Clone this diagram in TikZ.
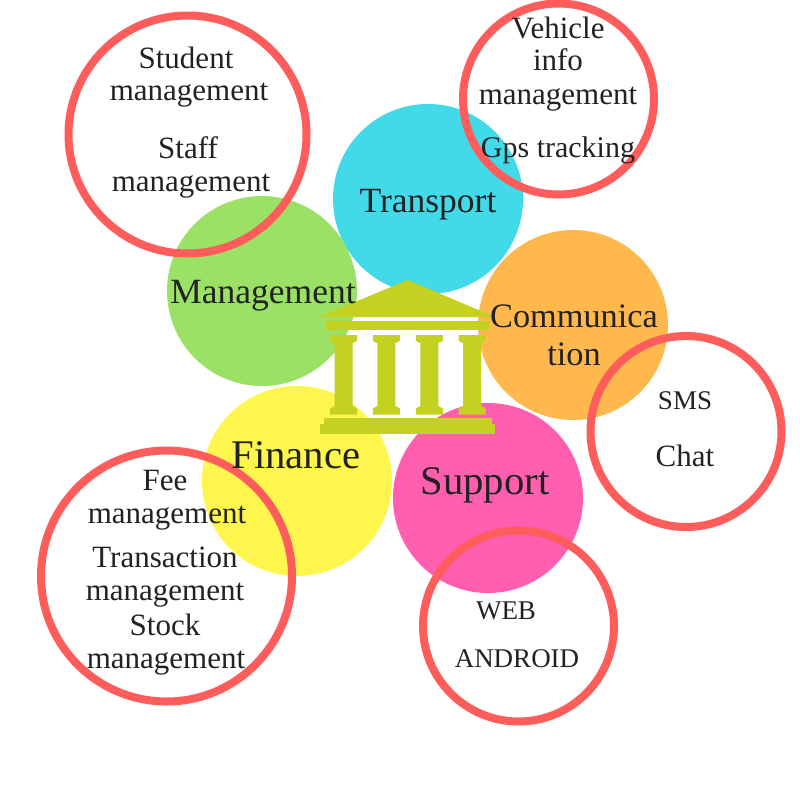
\documentclass[tikz,border=0pt]{standalone}
\usepackage{fontspec}
\setmainfont{Liberation Serif}
\definecolor{ttext}{HTML}{222222}
\definecolor{ring}{HTML}{FF5C5C}
\definecolor{cTrans}{HTML}{42D9E8}
\definecolor{cMan}{HTML}{9BE166}
\definecolor{cComm}{HTML}{FFB84D}
\definecolor{cFin}{HTML}{FFF64D}
\definecolor{cSup}{HTML}{FF5FAE}
\definecolor{temple}{HTML}{C5D120}
\tikzset{
  blob/.style={circle,inner sep=0pt,minimum size=190pt,draw=none},
  ringc/.style={circle,inner sep=0pt,draw=ring,line width=8pt,fill=none},
  big/.style={anchor=base,inner sep=0pt,text=ttext,font=\fontsize{35.5}{36}\selectfont},
  comm/.style={anchor=base,inner sep=0pt,text=ttext,font=\fontsize{34.3}{36}\selectfont},
  huge/.style={anchor=base,inner sep=0pt,text=ttext,font=\fontsize{40.7}{42}\selectfont},
  small/.style={anchor=base,inner sep=0pt,text=ttext,font=\fontsize{31}{32}\selectfont},
  gps/.style={anchor=base,inner sep=0pt,text=ttext,font=\fontsize{30}{32}\selectfont},
  caps/.style={anchor=base,inner sep=0pt,text=ttext,font=\fontsize{27}{28}\selectfont},
  templepart/.style={fill=temple,draw=none}
}
\begin{document}
\begin{tikzpicture}[x=1pt,y=-1pt]
\useasboundingbox (0,0) rectangle (800,800);
\fill[white] (0,0) rectangle (800,800);
% coloured discs
\node[blob,fill=cTrans] (transport) at (428,199) {};
\node[blob,fill=cMan] (management) at (262,291) {};
\node[blob,fill=cComm] (communication) at (573,325) {};
\node[blob,fill=cFin] (finance) at (297,481) {};
\node[blob,fill=cSup] (support) at (488,498) {};
% temple
\fill[templepart] (407.7,280) -- (495,317) -- (319,317) -- cycle;
\fill[templepart] (326,321) rectangle (490,329.5);
\foreach \cx in {343.7,386.3,429.3,472}{
  \fill[templepart] (\cx-13.5,335) -- (\cx+13.5,335) -- (\cx+13.5,341) -- (\cx+9,343) -- (\cx+9,406) -- (\cx+13.5,408.5) -- (\cx+13.5,414.5) -- (\cx-13.5,414.5) -- (\cx-13.5,408.5) -- (\cx-9,406) -- (\cx-9,343) -- (\cx-13.5,341) -- cycle;
}
\fill[templepart] (324,417.5) rectangle (491.5,424);
\fill[templepart] (320,424) rectangle (495,433.5);
% rings
\node[ringc,minimum size=238pt] (r1) at (187.5,134.5) {};
\node[ringc,minimum size=191pt] (r2) at (558.5,99) {};
\node[ringc,minimum size=191pt] (r3) at (686,431.5) {};
\node[ringc,minimum size=251pt] (r4) at (166.5,576) {};
\node[ringc,minimum size=191pt] (r5) at (518.5,626) {};
% labels
\node[big] (l1) at (428,212) {Transport};
\node[big] (l2) at (263,303) {Management};
\node[comm] (l3) at (574,327) {Communica};
\node[comm] (l4) at (574,365) {tion};
\node[huge] (l5) at (296,468) {Finance};
\node[huge] (l6) at (485,494) {Support};
\node[small] (a1) at (186,68.5) {Student};
\node[small] (a2) at (189,100.5) {management};
\node[small] (a3) at (188,158.5) {Staff};
\node[small] (a4) at (191,191.5) {management};
\node[small] (b1) at (558,38.5) {Vehicle};
\node[small] (b2) at (558,70.5) {info};
\node[small] (b3) at (558,104.5) {management};
\node[gps] (b4) at (558,157) {Gps tracking};
\node[caps] (c1) at (685,409) {SMS};
\node[small] (c2) at (685,466) {Chat};
\node[caps] (d1) at (506,619) {WEB};
\node[caps] (d2) at (517,667) {ANDROID};
\node[small] (e1) at (165,490.5) {Fee};
\node[small] (e2) at (167,523.5) {management};
\node[small] (e3) at (165,567.5) {Transaction};
\node[small] (e4) at (165,600.5) {management};
\node[small] (e5) at (165,635.5) {Stock};
\node[small] (e6) at (166,668.5) {management};
\end{tikzpicture}
\end{document}
